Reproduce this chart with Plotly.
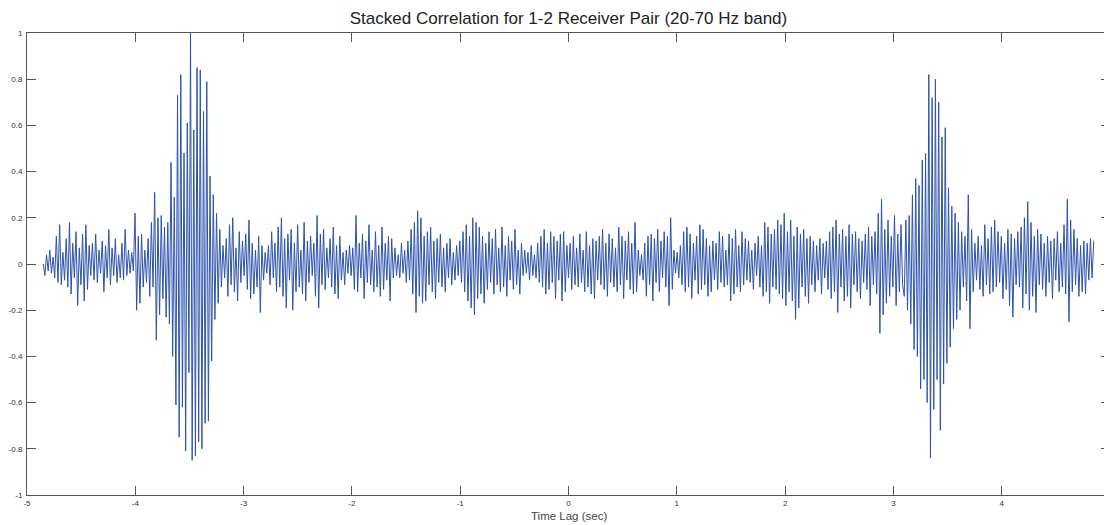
import numpy as np
import plotly.graph_objects as go

# ---- data (amplitudes in hundredths) ----
seg_a_span = (-4.85, -3.70)
seg_a = [0, -5, 4, -3, 6, -4, 3,
         -6, 12, -8, 17, -9, 5, -7, 11, -10, 18, -13, 9, -6,
         14, -18, 7, -9, 13, -16, 17, -11, 8, -5, 9, -7, 13,
         -8, 6, -4, 10, -12, 8, -6, 15, -9, 7, -5, 11, -8, 4, -6, 9, -7, 15, -5, 6,
         -4, 5, -3, 22, -20, 12, -17, 13, -10, 6, -8, 11, -14, 18, -10, 31, -33, 20, -22, 21, -15, 16, -23]

seg_b_span = (-3.70, -3.25)
seg_b = [18, -26, 44, -40, 29, -61, 73, -75, 82, -62, 48, -81, 61, -47, 100, -85, 58, -83, 85, -77,
         84, -80, 66, -69, 79, -68, 38, -42, 30, -24]

seg_c_span = (-3.25, 0.0)
seg_c = [22, -17, 15, -10, 8, -6, 11, -14, 17, -9,
         20, -12, 7, -16, 14, -8, 10, -5, 13, -11,
         19, -15, 9, -13, 6, -10, 12, -21, 8, -7,
         5, -4, 8, -9, 14, -6, 9, -12, 16, -10,
         20, -14, 11, -19, 13, -7, 15, -20, 9, -12,
         17, -10, 6, -13, 18, -16, 10, -8, 12, -5,
         9, -14, 21, -19, 13, -9, 15, -11, 7, -6,
         11, -10, 16, -13, 8, -15, 12, -7, 5, -9,
         6, -4, 8, -5, 7, -11, 21, -12, 9, -6,
         13, -15, 10, -8, 17, -9, 6, -12, 14, -10,
         8, -14, 16, -11, 9, -7, 12, -16, 11, -6,
         7, -5, 4, -6, 9, -4, 6, -8, 10, -7,
         15, -13, 18, -21, 23, -14, 20, -17, 12, -16,
         14, -9, 16, -12, 10, -15, 11, -8, 13, -10,
         7, -12, 9, -6, 11, -9, 5, -7, 8, -5,
         10, -8, 14, -12, 17, -16, 12, -19, 20, -22,
         18, -15, 16, -13, 12, -17, 9, -11, 14, -8,
         11, -13, 15, -9, 7, -12, 16, -10, 8, -14,
         12, -7, 10, -11, 15, -9, 6, -13, 9, -5,
         6, -4, 5, -7, 8, -5, 4, -6, 9, -8,
         12, -10, 15, -13, 9, -11, 14, -8, 12, -15,
         10, -7, 13, -16, 14, -12, 8]

seg_d_span = (0.0, 3.10)
seg_d = [-6, 9, -11, 12, -9, 7, -10, 13, -8, 6,
         -12, 14, -10, 8, -13, 11, -15, 10, -7, 12,
         -9, 15, -11, 9, -14, 13, -8, 11, -10, 7,
         -12, 16, -9, 12, -15, 10, -7, 14, -11, 9,
         -13, 18, -12, 6, -5, 4, -7, 9, -14, 12,
         -9, 13, -16, 11, -8, 15, -12, 10, -6, 14,
         -10, 12, -18, 20, -11, 6, -4, 5, -6, 8,
         -9, 14, -12, 16, -10, 13, -15, 9, -7, 12,
         -13, 17, -11, 15, -9, 11, -14, 8, -12, 10,
         -7, 9, -11, 14, -8, 12, -10, 6, -9, 13,
         -16, 11, -13, 15, -10, 8, -12, 14, -9, 11,
         -7, 10, -8, 6, -11, 9, -5, 12, -10, 8,
         -14, 18, -12, 16, -17, 13, -10, 15, -11, 19,
         -13, 17, -15, 22, -18, 14, -12, 19, -16, 12,
         -24, 16, -19, 13, -10, 15, -14, 11, -17, 12,
         -9, 10, -12, 8, -7, 11, -13, 9, -6, 10,
         -11, 14, -15, 16, -12, 19, -21, 13, -10, 15,
         -16, 12, -14, 17, -19, 13, -9, 14, -12, 11,
         -15, 10, -8, 13, -11, 16, -18, 12, -9, 14,
         -13, 22, -30, 28, -22, 15, -17, 19, -14, 12,
         -10, 21, -18, 13, -12, 17, -9]

seg_e_span = (3.10, 3.60)
seg_e = [-14, 19, -20, 21, -26, 30, -37, 37, -40, 34, -54, 45, -50, 48, -60, 82, -84, 72, -63, 80,
         -50, 70, -72, 55, -52, 59, -43, 33, -36, 25, -28, 22, -24]

seg_f_span = (3.60, 4.85)
seg_f = [18, -20, 14, -10, 12, -16, 30, -28, 15, -12,
         9, -7, 12, -11, 8, -14, 17, -9, 11, -13,
         16, -12, 19, -10, 14, -8, 12, -15, 9, -11,
         15, -18, 13, -23, 11, -9, 14, -10, 16, -19,
         20, -13, 27, -20, 18, -14, 12, -21, 15, -9,
         13, -11, 9, -14, 12, -8, 10, -15, 11, -7,
         14, -12, 9, -10, 17, -13, 28, -25, 19, -12,
         15, -9, 11, -14, 8, -12, 10, -13, 9, -7,
         11, -6, 10]

x_ticks = [-5, -4, -3, -2, -1, 0, 1, 2, 3, 4, 5]
x_ticklabels = ["-5", "-4", "-3", "-2", "-1", "0", "1", "2", "3", "4", "5"]
y_ticks = [-1, -0.8, -0.6, -0.4, -0.2, 0, 0.2, 0.4, 0.6, 0.8, 1]
y_ticklabels = ["-1", "-0.8", "-0.6", "-0.4", "-0.2", "0", "0.2", "0.4", "0.6", "0.8", "1"]

# ---- assemble samples on each segment's time grid ----
segments = [(seg_a_span, seg_a), (seg_b_span, seg_b), (seg_c_span, seg_c),
            (seg_d_span, seg_d), (seg_e_span, seg_e), (seg_f_span, seg_f)]
t_all, v_all = [], []
for i, ((t0, t1), vals) in enumerate(segments):
    last = (i == len(segments) - 1)
    t_all.extend(np.linspace(t0, t1, len(vals), endpoint=last).tolist())
    v_all.extend([v / 100.0 for v in vals])

fig = go.Figure()
fig.add_trace(go.Scatter(x=t_all, y=v_all, mode="lines",
                         line=dict(color="#2d52ad", width=1),
                         hoverinfo="skip", showlegend=False))

font_family = "Liberation Sans, Arial, sans-serif"
axis_common = dict(showline=True, linecolor="#555555", linewidth=1, mirror="allticks",
                   ticks="inside", ticklen=9, tickcolor="#555555", tickwidth=1,
                   showgrid=False, zeroline=False, automargin=False,
                   tickfont=dict(family=font_family, size=8, color="#333333"))

# page body adds an 8px offset, so the figure is sized to fit the remaining window
fig.update_layout(
    width=1104, height=517,
    margin=dict(l=19, r=2, t=25, b=30),
    paper_bgcolor="white", plot_bgcolor="white",
    font=dict(family=font_family, color="#222222"),
    title=dict(text="Stacked Correlation for 1-2 Receiver Pair (20-70 Hz band)",
               x=0.5, xref="paper", xanchor="center",
               y=1 - 10 / 517, yanchor="middle", yref="container",
               font=dict(size=17, color="#222222")),
    xaxis=dict(range=[-5, 5], tickvals=x_ticks, ticktext=x_ticklabels, **axis_common),
    yaxis=dict(range=[-1, 1], tickvals=y_ticks, ticktext=y_ticklabels, ticklabelstandoff=2,
               **axis_common),
    annotations=[dict(text="Time Lag (sec)", x=0.5, xref="paper", y=0, yref="paper",
                      xanchor="center", yanchor="middle", yshift=-21, showarrow=False,
                      font=dict(size=11.5, color="#444444", family=font_family))],
)

fig.write_html("out.html")
